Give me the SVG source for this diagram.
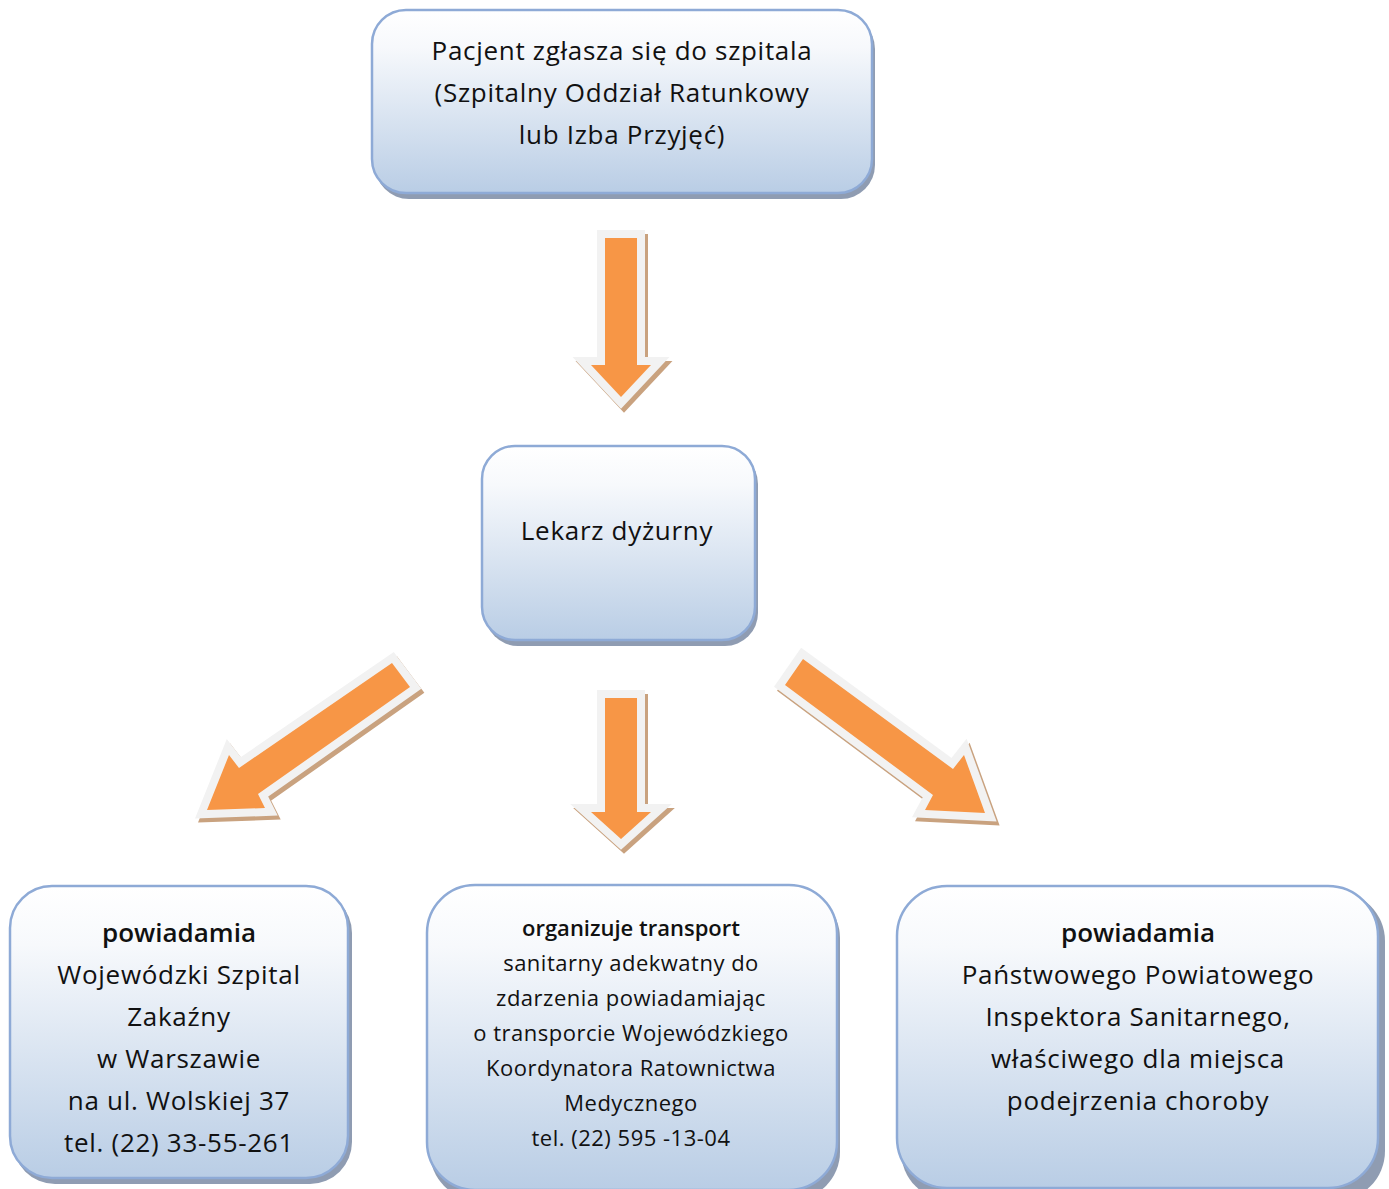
<svg xmlns="http://www.w3.org/2000/svg" width="1389" height="1189" viewBox="0 0 1389 1189">
  <defs>
    <linearGradient id="boxFill" x1="0" y1="0" x2="0" y2="1">
      <stop offset="0" stop-color="#ffffff"/>
      <stop offset="0.2" stop-color="#f7f9fc"/>
      <stop offset="1" stop-color="#b9cde5"/>
    </linearGradient>
    <style>
      .box { fill: url(#boxFill); stroke: #8eaad6; stroke-width: 2.5; }
      .boxShadow { fill: #8f9cb2; }
      .txt { font-family: "Open Sans", "Liberation Sans", sans-serif; fill: #111111; text-anchor: middle; }
      .big { font-size: 26px; letter-spacing: 0.7px; }
      .small { font-size: 22px; letter-spacing: 0.5px; }
      .bold { font-weight: 600; letter-spacing: 0; }
      .arrShadow { fill: #c9a27f; stroke: #c9a27f; stroke-width: 16; stroke-linejoin: miter; stroke-miterlimit: 10; }
      .arrRim { fill: #f2f2f2; stroke: #f2f2f2; stroke-width: 16; stroke-linejoin: miter; stroke-miterlimit: 10; }
      .arrBody { fill: #f79646; }
    </style>
    <polygon id="arrowTop" points="605,238 637,238 637,365 651,365 621,397 591,365 605,365"/>
    <polygon id="arrowMid" points="605,698 637,698 637,812 651,812 621,839 591,812 605,812"/>
    <polygon id="arrowLeft" points="392,663 410,687 258,794 265,808 207,810 229,755 239,768"/>
    <polygon id="arrowRight" points="803,659 953,769 964,755 985,813 925,810 933,795 785,685"/>
  </defs>

  <rect width="1389" height="1189" fill="#ffffff"/>

  <!-- connectors: block arrows with light rim and drop shadow -->
  <g id="connectors">
    <g id="conn-top">
      <use href="#arrowTop" class="arrShadow" transform="translate(3,4)"/>
      <use href="#arrowTop" class="arrRim"/>
      <use href="#arrowTop" class="arrBody"/>
    </g>
    <g id="conn-left">
      <use href="#arrowLeft" class="arrShadow" transform="translate(3,4)"/>
      <use href="#arrowLeft" class="arrRim"/>
      <use href="#arrowLeft" class="arrBody"/>
    </g>
    <g id="conn-mid">
      <use href="#arrowMid" class="arrShadow" transform="translate(3,4)"/>
      <use href="#arrowMid" class="arrRim"/>
      <use href="#arrowMid" class="arrBody"/>
    </g>
    <g id="conn-right">
      <use href="#arrowRight" class="arrShadow" transform="translate(3,4)"/>
      <use href="#arrowRight" class="arrRim"/>
      <use href="#arrowRight" class="arrBody"/>
    </g>
  </g>

  <g id="node-pacjent">
    <rect class="boxShadow" x="375" y="15" width="500" height="184" rx="34"/>
    <rect class="box" x="372" y="10" width="500" height="183" rx="34"/>
    <text class="txt big" x="622" y="60">Pacjent zgłasza się do szpitala</text>
    <text class="txt big" x="622" y="102">(Szpitalny Oddział Ratunkowy</text>
    <text class="txt big" x="622" y="144">lub Izba Przyjęć)</text>
  </g>

  <g id="node-lekarz">
    <rect class="boxShadow" x="485" y="451" width="273" height="195" rx="33"/>
    <rect class="box" x="482" y="446" width="273" height="194" rx="33"/>
    <text class="txt big" x="617" y="540">Lekarz dyżurny</text>
  </g>

  <g id="node-szpital">
    <rect class="boxShadow" x="13" y="891" width="339" height="293" rx="42"/>
    <rect class="box" x="10" y="886" width="338" height="292" rx="42"/>
    <text class="txt big bold" x="179" y="942">powiadamia</text>
    <text class="txt big" x="179" y="984">Wojewódzki Szpital</text>
    <text class="txt big" x="179" y="1026">Zakaźny</text>
    <text class="txt big" x="179" y="1068">w Warszawie</text>
    <text class="txt big" x="179" y="1110">na ul. Wolskiej 37</text>
    <text class="txt big" x="179" y="1152">tel. (22) 33-55-261</text>
  </g>

  <g id="node-transport">
    <rect class="boxShadow" x="430" y="890" width="410" height="310" rx="48"/>
    <rect class="box" x="427" y="885" width="410" height="305" rx="48"/>
    <text class="txt small bold" x="631" y="936">organizuje transport</text>
    <text class="txt small" x="631" y="971">sanitarny adekwatny do</text>
    <text class="txt small" x="631" y="1006">zdarzenia powiadamiając</text>
    <text class="txt small" x="631" y="1041">o transporcie Wojewódzkiego</text>
    <text class="txt small" x="631" y="1076">Koordynatora Ratownictwa</text>
    <text class="txt small" x="631" y="1111">Medycznego</text>
    <text class="txt small" x="631" y="1146">tel. (22) 595 -13-04</text>
  </g>

  <g id="node-inspektor">
    <rect class="boxShadow" x="901" y="891" width="484" height="310" rx="50"/>
    <rect class="box" x="897" y="886" width="481" height="302" rx="50"/>
    <text class="txt big bold" x="1138" y="942">powiadamia</text>
    <text class="txt big" x="1138" y="984">Państwowego Powiatowego</text>
    <text class="txt big" x="1138" y="1026">Inspektora Sanitarnego,</text>
    <text class="txt big" x="1138" y="1068">właściwego dla miejsca</text>
    <text class="txt big" x="1138" y="1110">podejrzenia choroby</text>
  </g>
</svg>
